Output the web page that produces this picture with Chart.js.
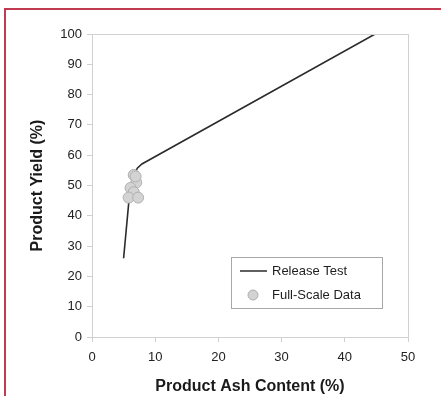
<!DOCTYPE html>
<html>
<head>
<meta charset="utf-8">
<script src="https://cdn.jsdelivr.net/npm/chart.js@4"></script>
<style>
  body { margin: 0; background: #fff; }
  #wrap { position: relative; width: 441px; height: 396px; overflow: hidden; }
  #frame { position: absolute; left: 4px; top: 8px; width: 460px; height: 420px;
           border-top: 2px solid #c23a50; border-left: 2px solid #c23a50; pointer-events: none; }
</style>
</head>
<body>
<div id="wrap">
  <canvas id="chart" width="441" height="396"></canvas>
  <div id="frame"></div>
</div>
<script>
// Release test curve
const releaseAsh = [5.0, 5.8, 6.6, 7.2, 7.9, 44.8];
const releaseYield = [26, 44, 53.5, 55.8, 57.1, 100];

// full-scale plant data
const fullAsh = [6.6, 7.0, 6.9, 6.1, 6.6, 5.8, 7.3];
const fullYield = [53.5, 51.0, 53.0, 49.2, 47.8, 46.0, 46.0];

const xTicks = [0, 10, 20, 30, 40, 50];
const yTicks = [0, 10, 20, 30, 40, 50, 60, 70, 80, 90, 100];

const FONT = "'Liberation Sans', Arial, sans-serif";

const boxPlugin = {
  id: 'box',
  afterDatasetsDraw(chart) {
    const {ctx, chartArea: a} = chart;
    ctx.save();
    ctx.strokeStyle = '#d2d2d2';
    ctx.lineWidth = 1;
    ctx.strokeRect(a.left + 0.5, a.top + 0.5, a.right - a.left, a.bottom - a.top);
    ctx.restore();
  }
};

// legend sits inside the plot, lower right
const insideLegend = {
  id: 'insideLegend',
  afterDraw(chart) {
    const {ctx, chartArea: a} = chart;
    const x = a.left + 139, y = a.top + 223, w = 151, h = 51;
    ctx.save();
    ctx.fillStyle = '#fff';
    ctx.fillRect(x, y, w, h);
    ctx.strokeStyle = '#a8a8a8';
    ctx.lineWidth = 1;
    ctx.strokeRect(x + 0.5, y + 0.5, w, h);

    const ds = chart.data.datasets;
    const line = ds.find(d => d.type === 'line');
    const pts = ds.find(d => d.type === 'scatter');

    ctx.strokeStyle = line.borderColor;
    ctx.lineWidth = 1.5;
    ctx.beginPath();
    ctx.moveTo(x + 9, y + 14);
    ctx.lineTo(x + 36, y + 14);
    ctx.stroke();

    ctx.fillStyle = pts.backgroundColor;
    ctx.strokeStyle = pts.borderColor;
    ctx.lineWidth = 1;
    ctx.beginPath();
    ctx.arc(x + 22, y + 38, 5, 0, Math.PI * 2);
    ctx.fill();
    ctx.stroke();

    ctx.fillStyle = '#1e1e1e';
    ctx.font = '13px ' + FONT;
    ctx.textBaseline = 'middle';
    ctx.fillText(line.label, x + 41, y + 14);
    ctx.fillText(pts.label, x + 41, y + 38);
    ctx.restore();
  }
};

new Chart(document.getElementById('chart'), {
  data: {
    datasets: [
      {
        type: 'scatter',
        label: 'Full-Scale Data',
        data: fullAsh.map((v, i) => ({x: v, y: fullYield[i]})),
        backgroundColor: '#d3d3d3',
        borderColor: '#b0b0b0',
        borderWidth: 1,
        pointRadius: 5.5,
        order: 0
      },
      {
        type: 'line',
        label: 'Release Test',
        data: releaseAsh.map((v, i) => ({x: v, y: releaseYield[i]})),
        borderColor: '#2b2b2b',
        borderWidth: 1.6,
        pointRadius: 0,
        tension: 0,
        fill: false,
        order: 1
      }
    ]
  },
  options: {
    responsive: false,
    animation: false,
    layout: { padding: { top: 34, right: 33, left: 0, bottom: 0 } },
    plugins: { legend: { display: false }, tooltip: { enabled: false } },
    scales: {
      x: {
        type: 'linear',
        min: 0, max: 50,
        afterBuildTicks: s => { s.ticks = xTicks.map(v => ({value: v})); },
        afterFit: s => { s.height = 59; },
        grid: { drawOnChartArea: false, color: '#cfcfcf', tickLength: 5 },
        border: { color: '#cfcfcf' },
        ticks: { color: '#222', font: { family: FONT, size: 13 }, padding: 8, maxRotation: 0 },
        title: { display: true, text: 'Product Ash Content (%)', color: '#1a1a1a',
                 font: { family: FONT, size: 16, weight: 'bold' }, padding: { top: 0, bottom: 0 } }
      },
      y: {
        min: 0, max: 100,
        afterBuildTicks: s => { s.ticks = yTicks.map(v => ({value: v})); },
        afterFit: s => { s.width = 92; },
        grid: { drawOnChartArea: false, color: '#cfcfcf', tickLength: 5 },
        border: { color: '#cfcfcf' },
        ticks: { color: '#222', font: { family: FONT, size: 13 }, padding: 5 },
        title: { display: true, text: 'Product Yield (%)', color: '#1a1a1a',
                 font: { family: FONT, size: 16, weight: 'bold' }, padding: { top: 28, bottom: 0 } }
      }
    }
  },
  plugins: [boxPlugin, insideLegend]
});
</script>
</body>
</html>
